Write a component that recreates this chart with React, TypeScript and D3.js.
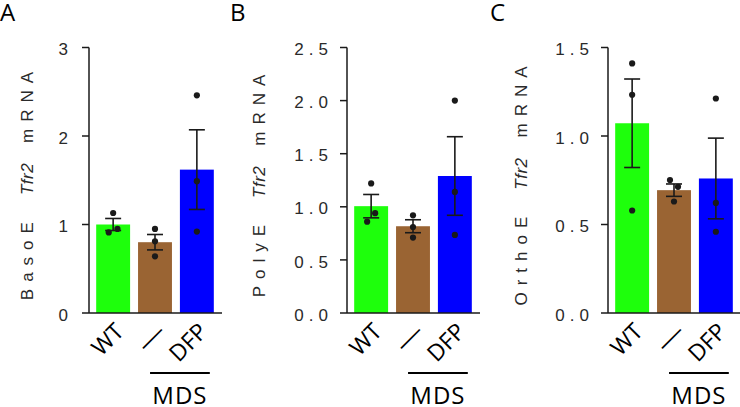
import React from "react";
import * as d3 from "d3";

const groups = ["WT", "—", "DFP"];
const groupColors = ["#1eff0c", "#9a6433", "#0000ff"];

const panelLetters = ["A", "B", "C"];
const cellTypes = ["BasoE", "PolyE", "OrthoE"];
const yMax = [3, 2.5, 1.5];
const yTicks = [
  [0, 1, 2, 3],
  [0, 0.5, 1, 1.5, 2, 2.5],
  [0, 0.5, 1, 1.5],
];
const tickDigits = [0, 1, 1];

// bar heights (mean) and SEM
const meansA = [1.0, 0.8, 1.62];
const semA = [0.068, 0.087, 0.45];
const dotsA = [[1.13, 0.91, 0.95], [0.95, 0.81, 0.64], [2.46, 1.49, 0.92]];

const meansB = [1.006, 0.817, 1.29];
const semB = [0.11, 0.061, 0.37];
const dotsB = [[1.22, 0.86, 0.94], [0.92, 0.81, 0.71], [2.0, 1.14, 0.735]];

const meansC = [1.072, 0.694, 0.76];
const semC = [0.25, 0.035, 0.228];
const dotsC = [[1.41, 1.233, 0.579], [0.751, 0.713, 0.63], [1.212, 0.622, 0.459]];

// horizontal nudges of overlapping dots (px)
const jitter = [
  [[0, -4.4, 4.3], [0, 0, 0], [0, 0, 0]],
  [[0, -4, 4], [0, 0, 0], [0, 0, 0]],
  [[0, 0, 0], [-4, 4, 0], [0, 0, 0]],
];

const means = [meansA, meansB, meansC];
const sems = [semA, semB, semC];
const dots = [dotsA, dotsB, dotsC];

const axisX = [89, 347, 608];
const titleX = [33, 265, 527];
const letterX = [0, 230, 490];
const y0 = 313;
const yTop = 47.5;
const plotW = 133;

const labelFont = "'Open Sans', 'Noto Sans', sans-serif";
const tickFont = "'Liberation Sans', Arial, sans-serif";
const ink = "#1a1a1a";

function Panel({ i }: { i: number }) {
  const ax = axisX[i];
  const y = d3.scaleLinear().domain([0, yMax[i]]).range([y0, yTop]);
  const x = d3
    .scaleBand()
    .domain(groups)
    .range([ax + 3, ax + 129])
    .paddingInner(0.19)
    .paddingOuter(0.1);
  const bw = x.bandwidth();
  const fmt = d3.format(`.${tickDigits[i]}f`);
  const ls = i === 0 ? 0 : 5;
  const mdsX1 = (x("—") as number) + 12;
  const mdsX2 = (x("DFP") as number) + bw - 4;

  return (
    <g>
      <text x={letterX[i]} y={21} fontFamily={labelFont} fontSize={24} fill="#000">
        {panelLetters[i]}
      </text>

      {/* bars */}
      {groups.map((g, k) => (
        <rect
          key={g}
          x={x(g)}
          y={y(means[i][k])}
          width={bw}
          height={y0 - y(means[i][k])}
          fill={groupColors[k]}
        />
      ))}

      {/* error bars */}
      {groups.map((g, k) => {
        const cx = (x(g) as number) + bw / 2;
        const hi = y(means[i][k] + sems[i][k]);
        const lo = y(means[i][k] - sems[i][k]);
        return (
          <g key={g} stroke={ink} strokeWidth={1.6} fill="none">
            <line x1={cx} x2={cx} y1={hi} y2={lo} />
            <line x1={cx - 8} x2={cx + 8} y1={hi} y2={hi} />
            <line x1={cx - 8} x2={cx + 8} y1={lo} y2={lo} />
          </g>
        );
      })}

      {/* points */}
      {groups.map((g, k) =>
        dots[i][k].map((v, j) => (
          <circle
            key={g + j}
            cx={(x(g) as number) + bw / 2 + jitter[i][k][j]}
            cy={y(v)}
            r={3.1}
            fill={ink}
          />
        ))
      )}

      {/* axes */}
      <line x1={ax} x2={ax} y1={yTop} y2={y0} stroke={ink} strokeWidth={1.5} />
      <line x1={ax} x2={ax + plotW} y1={y0} y2={y0} stroke={ink} strokeWidth={1.5} />
      {yTicks[i].map((t) => (
        <g key={t}>
          <line x1={ax - 7} x2={ax} y1={y(t)} y2={y(t)} stroke={ink} strokeWidth={1.5} />
          <text
            x={ax - (i === 0 ? 21 : 19) + ls}
            y={y(t)}
            dy="0.45em"
            textAnchor="end"
            fontFamily={tickFont}
            fontSize={17}
            letterSpacing={ls}
            fill="#2a2a2a"
          >
            {fmt(t)}
          </text>
        </g>
      ))}

      {/* y title */}
      <text
        transform={`translate(${titleX[i]},186) rotate(-90)`}
        textAnchor="middle"
        fontFamily={tickFont}
        fontSize={17}
        fill="#2a2a2a"
      >
        <tspan letterSpacing={7} dx={3.5}>{cellTypes[i]}</tspan>
        <tspan dx={20} fontStyle="italic" letterSpacing={0.5}>Tfr2</tspan>
        <tspan dx={20} letterSpacing={7}>mRNA</tspan>
      </text>

      {/* x labels */}
      {groups.map((g) => (
        <text
          key={g}
          transform={`translate(${(x(g) as number) + bw / 2 + 12},333) rotate(-45)`}
          textAnchor="end"
          fontFamily={labelFont}
          fontSize={23}
          fill="#000"
          {...(g === "—" ? { textLength: 29, lengthAdjust: "spacingAndGlyphs" } : {})}
        >
          {g}
        </text>
      ))}

      <line x1={mdsX1} x2={mdsX2} y1={373} y2={373} stroke="#000" strokeWidth={2} />
      <text
        x={(mdsX1 + mdsX2) / 2}
        y={404}
        textAnchor="middle"
        fontFamily={labelFont}
        fontSize={24}
        letterSpacing={1}
        fill="#000"
      >
        MDS
      </text>
    </g>
  );
}

export default function App() {
  return (
    <svg
      width={740}
      height={407}
      style={{ position: "absolute", left: 0, top: 0, background: "#fff" }}
    >
      <rect width={740} height={407} fill="#fff" />
      {[0, 1, 2].map((i) => (
        <Panel key={i} i={i} />
      ))}
    </svg>
  );
}
